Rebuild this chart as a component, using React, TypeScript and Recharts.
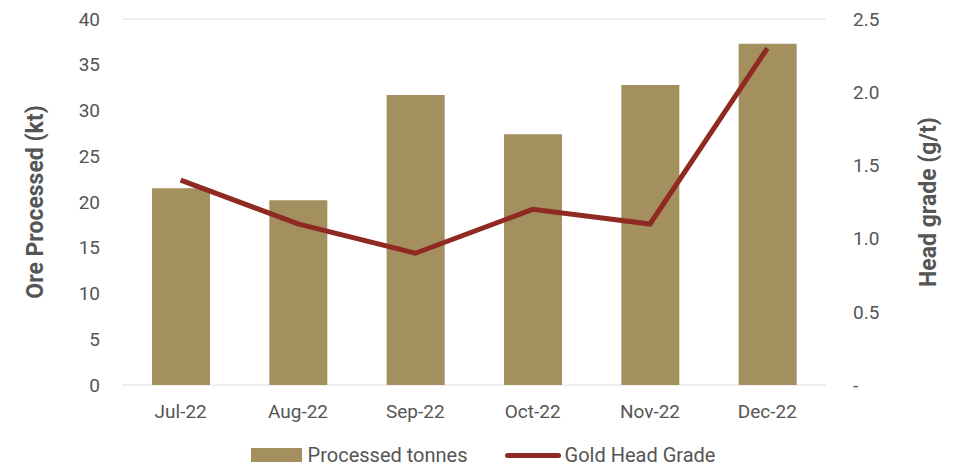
import { ComposedChart, Bar, Line, XAxis, YAxis, CartesianGrid, Legend } from 'recharts';

const months = ['Jul-22', 'Aug-22', 'Sep-22', 'Oct-22', 'Nov-22', 'Dec-22'];
const processedTonnes = [21.5, 20.2, 31.7, 27.4, 32.8, 37.3];
const headGrade = [1.4, 1.1, 0.9, 1.2, 1.1, 2.3];
const leftTicks = [0, 5, 10, 15, 20, 25, 30, 35, 40];
const rightTicks = [0, 0.5, 1.0, 1.5, 2.0, 2.5];

const data = months.map((m, i) => ({ name: m, tonnes: processedTonnes[i], grade: headGrade[i] }));

const GOLD = '#a48f5f';
const RED = '#8e2a22';
const TEXT = '#555555';
const FONT = 'Roboto, "DejaVu Sans", sans-serif';

function LegendContent() {
  return (
    <div style={{ display: 'flex', justifyContent: 'center', alignItems: 'center', fontFamily: FONT, fontSize: 20, color: TEXT, lineHeight: '24px' }}>
      <span style={{ display: 'inline-block', width: 51, height: 14, background: GOLD, marginRight: 6 }} />
      <span style={{ marginRight: 37 }}>Processed tonnes</span>
      <span style={{ display: 'inline-block', width: 56, height: 5, borderRadius: 3, background: RED, marginRight: 4 }} />
      <span>Gold Head Grade</span>
    </div>
  );
}

function axisTitle(x: number, text: string) {
  return (p: any) => {
    const cy = p.viewBox.y + p.viewBox.height / 2;
    return (
      <text x={x} y={cy} transform={`rotate(-90, ${x}, ${cy})`} textAnchor="middle" dominantBaseline="central"
        fill={TEXT} fontSize={23} fontWeight={700} fontFamily={FONT}>
        {text}
      </text>
    );
  };
}

export default function App() {
  return (
    <div style={{ position: 'absolute', left: 0, top: 0, background: '#fff' }}>
      <ComposedChart width={966} height={476} data={data} margin={{ top: 19, right: 0, bottom: 0, left: 0 }} barCategoryGap={0}>
        <CartesianGrid stroke="#f0f0f0" strokeWidth={2} vertical={false} />
        <XAxis dataKey="name" axisLine={false} tickLine={false} tickSize={0} tickMargin={20}
          tick={{ fill: TEXT, fontSize: 19, fontFamily: FONT }} height={56} />
        <YAxis yAxisId="left" width={122} domain={[0, 40]} ticks={leftTicks} axisLine={false} tickLine={false}
          tickSize={0} tickMargin={22} tick={{ fill: TEXT, fontSize: 19, fontFamily: FONT }}
          label={{ content: axisTitle(35, 'Ore Processed (kt)') }} />
        <YAxis yAxisId="right" orientation="right" width={140} domain={[0, 2.5]} ticks={rightTicks} axisLine={false}
          tickLine={false} tickSize={0} tickMargin={27} tick={{ fill: TEXT, fontSize: 19, fontFamily: FONT, textAnchor: 'start' }}
          tickFormatter={(v: number) => (v === 0 ? '-' : v.toFixed(1))}
          label={{ content: axisTitle(928, 'Head grade (g/t)') }} />
        <Legend verticalAlign="bottom" height={35} wrapperStyle={{ bottom: -2 }} content={() => <LegendContent />} />
        <Bar yAxisId="left" dataKey="tonnes" name="Processed tonnes" fill={GOLD} barSize={58} isAnimationActive={false} />
        <Line yAxisId="right" dataKey="grade" name="Gold Head Grade" stroke={RED} strokeWidth={5} dot={false}
          activeDot={false} isAnimationActive={false} />
      </ComposedChart>
    </div>
  );
}
